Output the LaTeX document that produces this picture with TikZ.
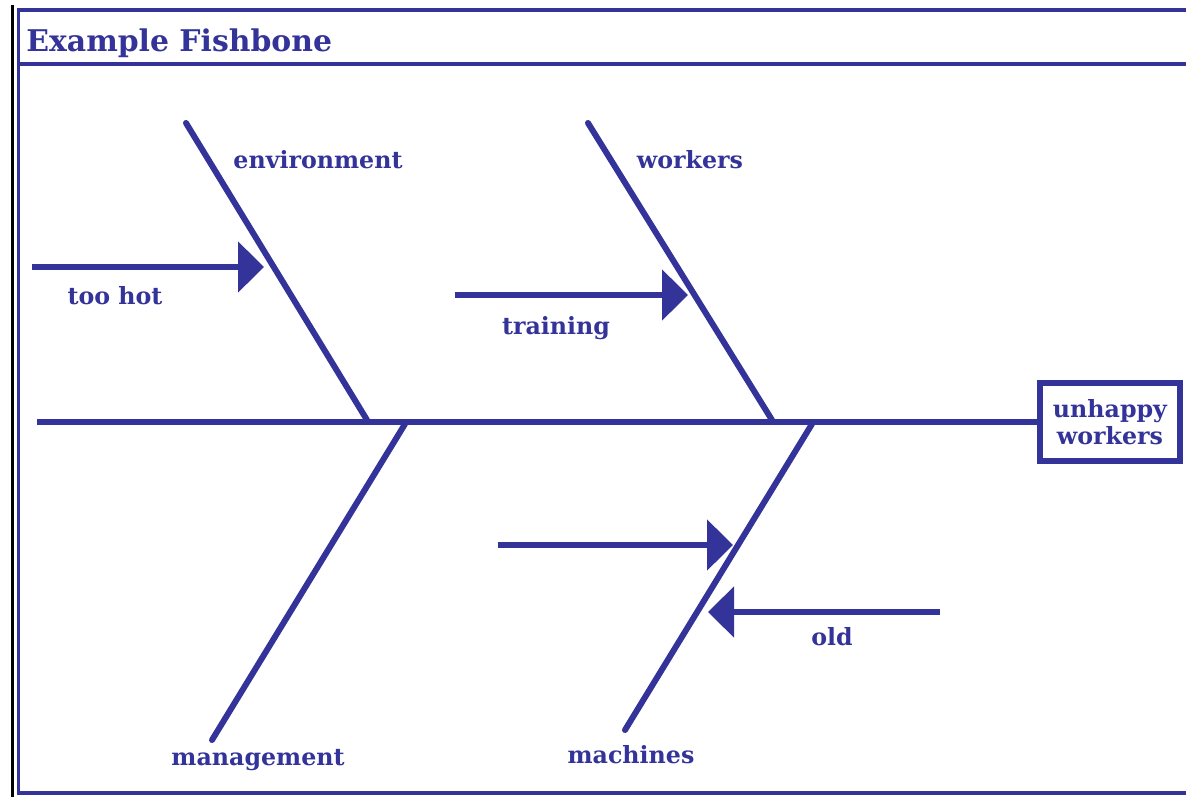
\documentclass[tikz,border=0pt]{standalone}
\usepackage{fontspec}
\setmainfont{DejaVu Serif}
\usetikzlibrary{arrows.meta,positioning}
\definecolor{fishBlue}{HTML}{333399}

\begin{document}
\begin{tikzpicture}[
  x=0.02cm, y=-0.02cm,
  bone/.style={line width=0.12cm, draw=fishBlue, line cap=round},
  cause/.style={line width=0.11cm, draw=fishBlue, -{Triangle[length=0.52cm, width=1cm]}},
  label/.style={text=fishBlue, font=\bfseries\fontsize{13.5}{15}\selectfont, inner sep=0pt},
  effect/.style={rectangle, draw=fishBlue, line width=0.12cm, minimum width=2.8cm, minimum height=1.55cm, align=center, text=fishBlue, font=\bfseries\fontsize{13.5}{15}\selectfont, inner sep=0pt}
]
\useasboundingbox (0,0) rectangle (1186,797);
\draw[line width=0.08cm] (12.5,5) -- (12.5,797);
\draw[line width=0.08cm, draw=fishBlue] (1186,10) -| (18.5,793) -- (1186,793);
\draw[line width=0.08cm, draw=fishBlue] (18,64) -- (1186,64);
\node[label, anchor=west, font=\bfseries\fontsize{17}{19}\selectfont] (title) at (26,43) {Example Fishbone};

\node[effect] (effect) at (1110,422) {unhappy\\workers};
\coordinate (tail) at (37,422);
\draw[bone, line cap=butt] (tail) -- (effect);

\coordinate (envtop) at (186,123);
\coordinate (envfoot) at (367,420);
\coordinate (wrktop) at (588,123);
\coordinate (wrkfoot) at (772,420);
\coordinate (mgtfoot) at (405,424);
\coordinate (mgtend) at (212,740);
\coordinate (machfoot) at (812,424);
\coordinate (machend) at (625,730);
\draw[bone] (envtop) -- (envfoot);
\draw[bone] (wrktop) -- (wrkfoot);
\draw[bone] (mgtfoot) -- (mgtend);
\draw[bone] (machfoot) -- (machend);

\node[label] (environment) at (318,160) {environment};
\node[label] (workers) at (690,160) {workers};
\node[label] (management) at (258,760) {management};
\node[label] (machines) at (631,755) {machines};

\coordinate (hotstart) at (32,267);
\coordinate (hottip) at (264,267);
\coordinate (trainstart) at (455,295);
\coordinate (traintip) at (688,295);
\coordinate (blankstart) at (498,545);
\coordinate (blanktip) at (733,545);
\coordinate (oldstart) at (940,612);
\coordinate (oldtip) at (708,612);
\draw[cause] (hotstart) -- (hottip);
\draw[cause] (trainstart) -- (traintip);
\draw[cause] (blankstart) -- (blanktip);
\draw[cause] (oldstart) -- (oldtip);

\node[label] (toohot) at (115,296) {too hot};
\node[label] (training) at (556,328) {training};
\node[label] (old) at (832,637) {old};
\end{tikzpicture}
\end{document}
